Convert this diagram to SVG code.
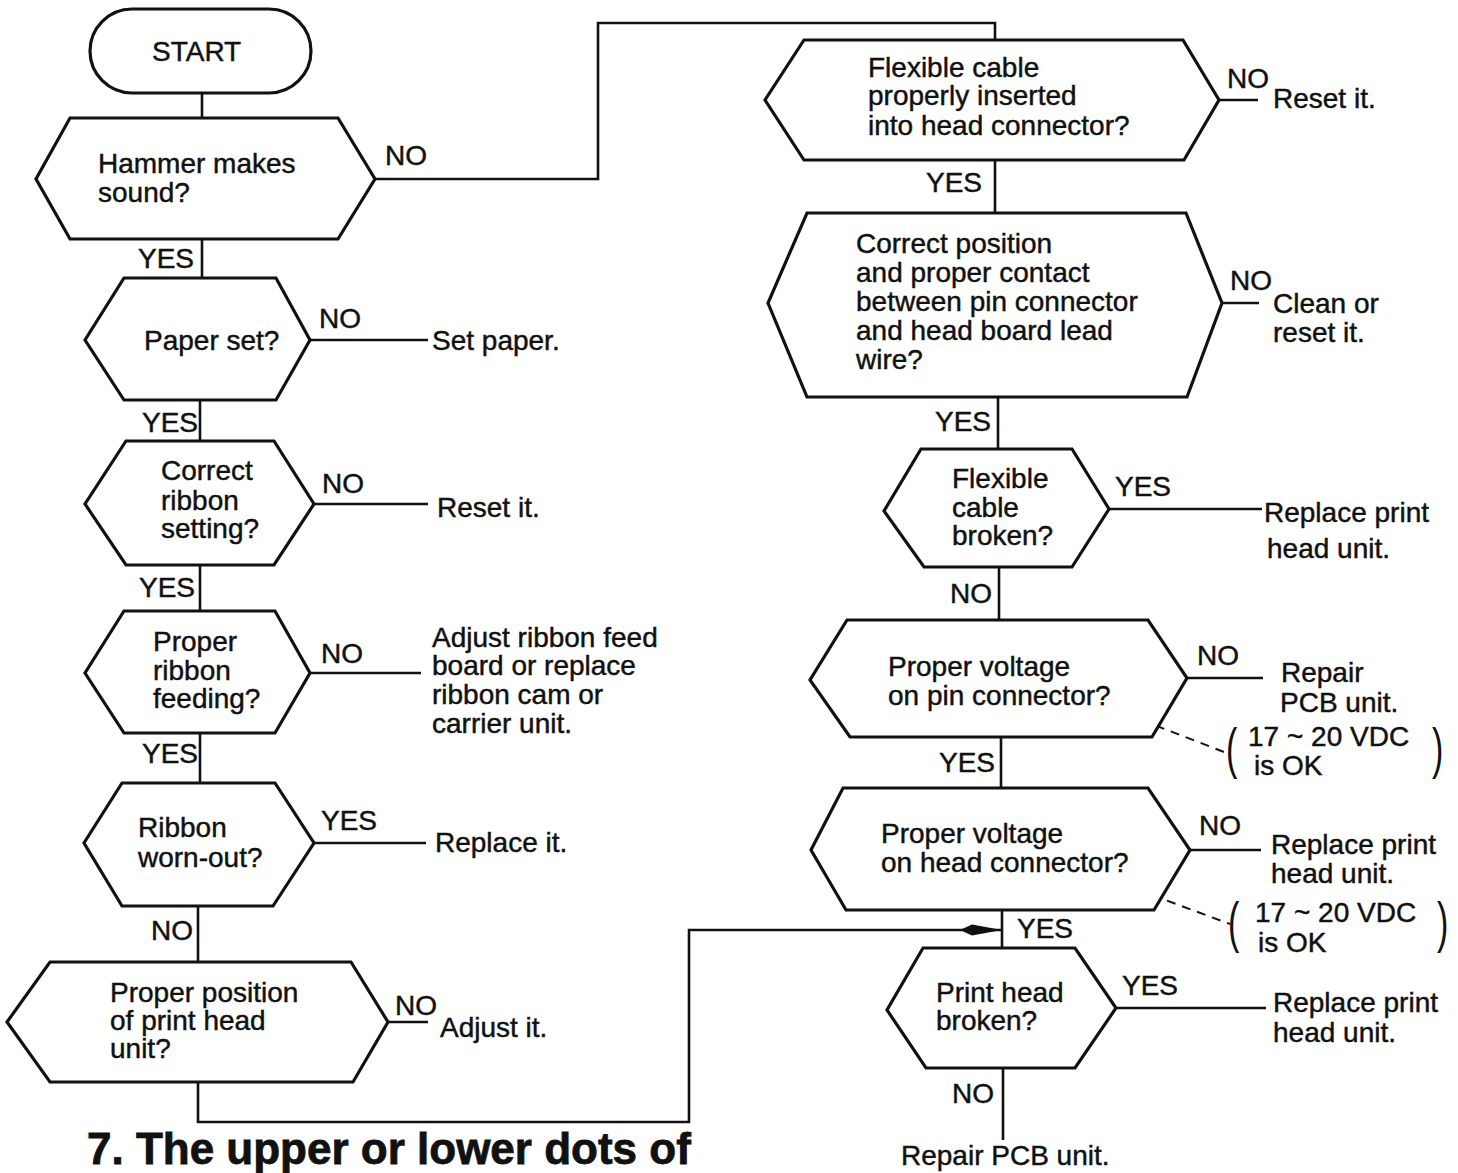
<svg xmlns="http://www.w3.org/2000/svg" width="1458" height="1173" viewBox="0 0 1458 1173">
<style>
text{font-family:"Liberation Sans",Arial,sans-serif;font-size:28px;fill:#111;stroke:#111;stroke-width:0.45}
.shape{fill:#fff;stroke:#111;stroke-width:3.2;stroke-linejoin:miter}
.ln{fill:none;stroke:#111;stroke-width:2.6}
.dash{fill:none;stroke:#111;stroke-width:2;stroke-dasharray:9 7}
.title{font-weight:bold;font-size:44px;stroke-width:0.8}
.paren{font-size:34px;stroke-width:0}
</style>
<defs>
<marker id="arr" viewBox="0 0 42 14" refX="42" refY="7" markerWidth="42" markerHeight="14" markerUnits="userSpaceOnUse" orient="auto">
<path d="M0,7 L12,1.5 L42,7 L12,12.5 Z" fill="#111"/>
</marker>
</defs>
<rect width="1458" height="1173" fill="#fff"/>

<g id="connectors">
<line class="ln" x1="202" y1="93" x2="202" y2="118"/>
<polyline class="ln" points="375,179 598,179 598,23 995,23 995,40"/>
<line class="ln" x1="202" y1="239" x2="202" y2="278"/>
<line class="ln" x1="310" y1="340" x2="428" y2="340"/>
<line class="ln" x1="200" y1="400" x2="200" y2="441"/>
<line class="ln" x1="314" y1="504" x2="428" y2="504"/>
<line class="ln" x1="200" y1="565" x2="200" y2="611"/>
<line class="ln" x1="310" y1="673" x2="421" y2="673"/>
<line class="ln" x1="200" y1="733" x2="200" y2="783"/>
<line class="ln" x1="314" y1="843" x2="426" y2="843"/>
<line class="ln" x1="198" y1="906" x2="198" y2="962"/>
<line class="ln" x1="388" y1="1022" x2="428" y2="1022"/>
<polyline class="ln" points="198,1082 198,1122 689,1122 689,930 1002,930" marker-end="url(#arr)"/>
<line class="ln" x1="1219" y1="100" x2="1258" y2="100"/>
<line class="ln" x1="995" y1="160" x2="995" y2="213"/>
<line class="ln" x1="1222" y1="303" x2="1259" y2="303"/>
<line class="ln" x1="998" y1="397" x2="998" y2="449"/>
<line class="ln" x1="1109" y1="509" x2="1262" y2="509"/>
<line class="ln" x1="999" y1="567" x2="999" y2="620"/>
<line class="ln" x1="1187" y1="678" x2="1263" y2="678"/>
<line class="ln" x1="1001" y1="737" x2="1001" y2="788"/>
<line class="ln" x1="1190" y1="850" x2="1261" y2="850"/>
<line class="ln" x1="1002" y1="910" x2="1002" y2="948"/>
<line class="ln" x1="1116" y1="1008" x2="1266" y2="1008"/>
<line class="ln" x1="1003" y1="1068" x2="1003" y2="1140"/>
<line class="dash" x1="1126" y1="714" x2="1224" y2="752"/>
<line class="dash" x1="1122" y1="884" x2="1230" y2="924"/>
</g>

<g id="labels">
<text x="385" y="165">NO</text>
<text x="138" y="268">YES</text>
<text x="319" y="328">NO</text>
<text x="432" y="350">Set paper.</text>
<text x="142" y="432">YES</text>
<text x="322" y="493">NO</text>
<text x="437" y="517">Reset it.</text>
<text x="139" y="597">YES</text>
<text x="321" y="663">NO</text>
<text x="432" y="647">Adjust ribbon feed</text>
<text x="432" y="675">board or replace</text>
<text x="432" y="704">ribbon cam or</text>
<text x="432" y="733">carrier unit.</text>
<text x="142" y="763">YES</text>
<text x="321" y="830">YES</text>
<text x="435" y="852">Replace it.</text>
<text x="151" y="940">NO</text>
<text x="395" y="1015">NO</text>
<text x="440" y="1037">Adjust it.</text>
<text x="1227" y="88">NO</text>
<text x="1273" y="108">Reset it.</text>
<text x="926" y="192">YES</text>
<text x="1230" y="290">NO</text>
<text x="1273" y="313">Clean or</text>
<text x="1273" y="342">reset it.</text>
<text x="935" y="431">YES</text>
<text x="1115" y="496">YES</text>
<text x="1264" y="522">Replace print</text>
<text x="1267" y="558">head unit.</text>
<text x="950" y="603">NO</text>
<text x="1197" y="665">NO</text>
<text x="1281" y="682">Repair</text>
<text x="1280" y="712">PCB unit.</text>
<text class="paren" transform="translate(1226,767) scale(1,1.65)">(</text>
<text x="1248" y="746">17 ~ 20 VDC</text>
<text x="1254" y="775">is OK</text>
<text class="paren" transform="translate(1432,767) scale(1,1.65)">)</text>
<text x="939" y="772">YES</text>
<text x="1199" y="835">NO</text>
<text x="1271" y="854">Replace print</text>
<text x="1271" y="883">head unit.</text>
<text class="paren" transform="translate(1228,941) scale(1,1.65)">(</text>
<text x="1255" y="922">17 ~ 20 VDC</text>
<text x="1258" y="952">is OK</text>
<text class="paren" transform="translate(1437,941) scale(1,1.65)">)</text>
<text x="1017" y="938">YES</text>
<text x="1122" y="995">YES</text>
<text x="1273" y="1012">Replace print</text>
<text x="1273" y="1042">head unit.</text>
<text x="952" y="1103">NO</text>
<text x="901" y="1165">Repair PCB unit.</text>
</g>

<g id="start">
<rect class="shape" x="90" y="9" width="221" height="84" rx="42"/>
<text x="152" y="61">START</text>
</g>
<g id="hammer">
<polygon class="shape" points="70,118 338,118 375,179 338,239 70,239 36,179"/>
<text x="98" y="173">Hammer makes</text>
<text x="98" y="202">sound?</text>
</g>
<g id="paper">
<polygon class="shape" points="124,278 276,278 310,340 276,400 124,400 85,340"/>
<text x="144" y="350">Paper set?</text>
</g>
<g id="ribbon-setting">
<polygon class="shape" points="126,441 274,441 314,504 274,565 126,565 85,504"/>
<text x="161" y="480">Correct</text>
<text x="161" y="510">ribbon</text>
<text x="161" y="538">setting?</text>
</g>
<g id="ribbon-feeding">
<polygon class="shape" points="124,611 275,611 310,673 275,733 124,733 85,673"/>
<text x="153" y="651">Proper</text>
<text x="153" y="680">ribbon</text>
<text x="153" y="708">feeding?</text>
</g>
<g id="ribbon-worn">
<polygon class="shape" points="122,783 275,783 314,843 273,906 122,906 84,843"/>
<text x="138" y="837">Ribbon</text>
<text x="138" y="867">worn-out?</text>
</g>
<g id="print-head-position">
<polygon class="shape" points="50,962 351,962 388,1022 353,1082 50,1082 7,1022"/>
<text x="110" y="1002">Proper position</text>
<text x="110" y="1030">of print head</text>
<text x="110" y="1058">unit?</text>
</g>
<g id="flex-inserted">
<polygon class="shape" points="804,40 1183,40 1219,100 1184,160 804,160 765,100"/>
<text x="868" y="77">Flexible cable</text>
<text x="868" y="105">properly inserted</text>
<text x="868" y="135">into head connector?</text>
</g>
<g id="pin-contact">
<polygon class="shape" points="807,213 1186,213 1222,303 1187,397 807,397 768,303"/>
<text x="856" y="253">Correct position</text>
<text x="856" y="282">and proper contact</text>
<text x="856" y="311">between pin connector</text>
<text x="856" y="340">and head board lead</text>
<text x="856" y="369">wire?</text>
</g>
<g id="flex-broken">
<polygon class="shape" points="921,449 1072,449 1109,509 1072,567 924,567 884,511"/>
<text x="952" y="488">Flexible</text>
<text x="952" y="517">cable</text>
<text x="952" y="545">broken?</text>
</g>
<g id="pin-voltage">
<polygon class="shape" points="847,620 1148,620 1187,678 1152,737 850,737 810,680"/>
<text x="888" y="676">Proper voltage</text>
<text x="888" y="705">on pin connector?</text>
</g>
<g id="head-voltage">
<polygon class="shape" points="843,788 1148,788 1190,850 1154,910 846,910 811,850"/>
<text x="881" y="843">Proper voltage</text>
<text x="881" y="872">on head connector?</text>
</g>
<g id="print-head-broken">
<polygon class="shape" points="923,948 1075,948 1116,1008 1075,1068 926,1068 887,1010"/>
<text x="936" y="1002">Print head</text>
<text x="936" y="1030">broken?</text>
</g>

<text class="title" x="87" y="1164">7. The upper or lower dots of</text>
</svg>
